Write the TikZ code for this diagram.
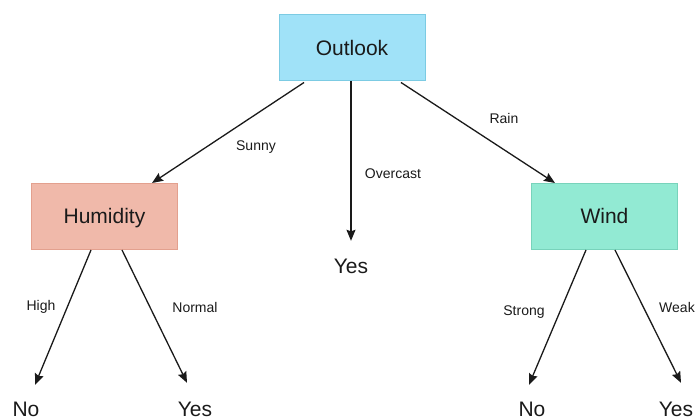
\documentclass[tikz,border=0pt]{standalone}
\usepackage{fontspec}
\setmainfont{Liberation Sans}
\usetikzlibrary{arrows.meta}
\definecolor{outfill}{HTML}{A0E2F8}
\definecolor{outline}{HTML}{7CCBE3}
\definecolor{humfill}{HTML}{F0B9AA}
\definecolor{humline}{HTML}{E3A08E}
\definecolor{windfill}{HTML}{92EAD3}
\definecolor{windline}{HTML}{78D3BB}
\definecolor{ink}{HTML}{1A1A1A}
\tikzset{
  attr/.style={draw, line width=1pt, minimum width=146pt, minimum height=66pt,
    inner sep=0pt, text height=15pt, text depth=0pt, text=ink,
    font=\fontsize{21}{24}\selectfont},
  leaf/.style={inner sep=0pt, text height=16pt, text depth=0pt, text=ink,
    font=\fontsize{21}{24}\selectfont},
  elabel/.style={inner sep=0pt, text=ink, font=\fontsize{14}{16}\selectfont},
  branch/.style={draw=ink, line width=1.3pt,
    -{Stealth[length=11pt,width=9pt,inset=1.5pt]}}
}
\begin{document}
\begin{tikzpicture}[x=1pt,y=-1pt]
\useasboundingbox (0,0) rectangle (697,419);

% attribute nodes
\node[attr, fill=outfill, draw=outline] (outlook) at (352,48) {Outlook};
\node[attr, fill=humfill, draw=humline] (humidity) at (104.5,216.5) {Humidity};
\node[attr, fill=windfill, draw=windline] (wind) at (604.5,216.5) {Wind};

% leaf decisions
\node[leaf] (yesmid) at (351,266) {Yes};
\node[leaf] (nohum) at (26,409) {No};
\node[leaf] (yeshum) at (195,409) {Yes};
\node[leaf] (nowind) at (532,409) {No};
\node[leaf] (yeswind) at (676,409) {Yes};

% branches from the root
\draw[branch] ([xshift=-48pt,yshift=-1pt]outlook.south) -- ([xshift=47.5pt]humidity.north);
\draw[branch] ([xshift=-1pt]outlook.south) -- ([yshift=17pt]yesmid.north);
\draw[branch] ([xshift=49pt,yshift=-1pt]outlook.south) -- ([xshift=-49.5pt]wind.north);

% branches from Humidity
\draw[branch] ([xshift=-13.5pt]humidity.south) -- ([xshift=9pt,yshift=16pt]nohum.north);
\draw[branch] ([xshift=17.5pt]humidity.south) -- ([xshift=-8pt,yshift=18pt]yeshum.north);

% branches from Wind
\draw[branch] ([xshift=-18.5pt]wind.south) -- ([xshift=-3pt,yshift=16pt]nowind.north);
\draw[branch] ([xshift=10.5pt]wind.south) -- ([xshift=5pt,yshift=18pt]yeswind.north);

% branch labels
\node[elabel] (lsunny) at (256,147) {Sunny};
\node[elabel] (lovercast) at (393,174) {Overcast};
\node[elabel] (lrain) at (504,119) {Rain};
\node[elabel] (lhigh) at (41,307) {High};
\node[elabel] (lnormal) at (195,307) {Normal};
\node[elabel] (lstrong) at (524,312) {Strong};
\node[elabel] (lweak) at (677,307) {Weak};
\end{tikzpicture}
\end{document}
